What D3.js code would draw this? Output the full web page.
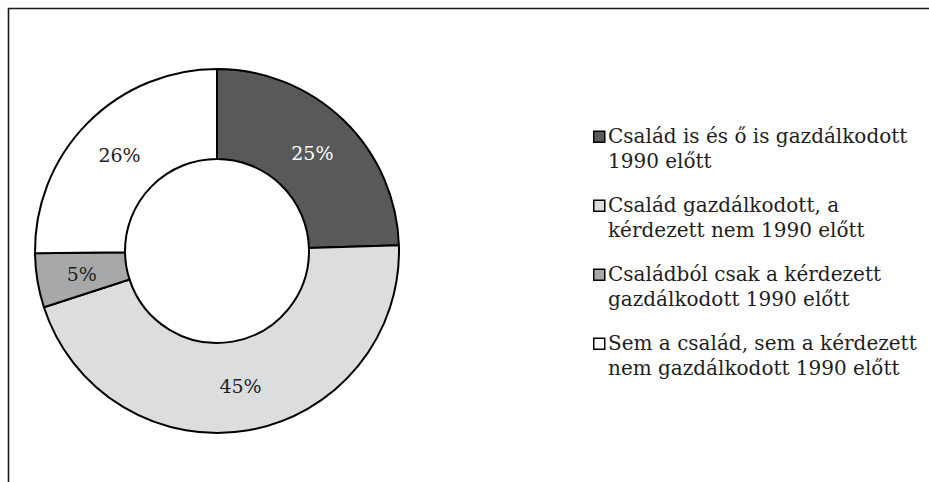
<!DOCTYPE html>
<html>
<head>
<meta charset="utf-8">
<script src="https://cdn.jsdelivr.net/npm/d3@7"></script>
<style>
  html, body { margin: 0; padding: 0; background: #fff; }
  svg { display: block; }
  text { font-family: "DejaVu Serif", Georgia, serif; }
</style>
</head>
<body>
<svg id="chart" width="929" height="482"></svg>
<script>
const categories = [
  ["Család is és ő is gazdálkodott", "1990 előtt"],
  ["Család gazdálkodott, a", "kérdezett nem 1990 előtt"],
  ["Családból csak a kérdezett", "gazdálkodott 1990 előtt"],
  ["Sem a család, sem a kérdezett", "nem gazdálkodott 1990 előtt"]
];
const values = [24.5, 45.5, 4.8, 25.2];
const valueLabels = ["25%", "45%", "5%", "26%"];
const colors = ["#58595b", "#dcdddf", "#a7a8aa", "#ffffff"];
const labelColors = ["#ffffff", "#1e1e1e", "#1e1e1e", "#1e1e1e"];

const svg = d3.select("#chart");
const W = 929, H = 482;

// frame (cropped)
svg.append("path")
  .attr("d", `M8.5,${H} L8.5,8.5 L${W},8.5`)
  .attr("fill", "none")
  .attr("stroke", "#1a1a1a")
  .attr("stroke-width", 1.6);

const cx = 217, cy = 251, rOuter = 182, rInner = 92;

const pie = d3.pie().sort(null).value(d => d);
const arcs = pie(values);
const arc = d3.arc().innerRadius(rInner).outerRadius(rOuter);
const labelArc = d3.arc().innerRadius((rInner + rOuter) / 2).outerRadius((rInner + rOuter) / 2);

const g = svg.append("g").attr("transform", `translate(${cx},${cy})`);
g.selectAll("path.slice")
  .data(arcs)
  .join("path")
  .attr("class", "slice")
  .attr("d", arc)
  .attr("fill", (d, i) => colors[i])
  .attr("stroke", "#000")
  .attr("stroke-width", 2)
  .attr("stroke-linejoin", "round");

g.selectAll("text.lbl")
  .data(arcs)
  .join("text")
  .attr("class", "lbl")
  .attr("transform", d => `translate(${labelArc.centroid(d)})`)
  .attr("text-anchor", "middle")
  .attr("dy", "0.38em")
  .attr("font-size", 19)
  .attr("fill", (d, i) => labelColors[i])
  .text((d, i) => valueLabels[i]);

// legend
const legX = 593, textX = 608, firstBase = 143, itemPitch = 69, lineH = 25;
const leg = svg.append("g");
categories.forEach((lines, i) => {
  const base = firstBase + i * itemPitch;
  leg.append("rect")
    .attr("x", legX + 0.75)
    .attr("y", base - 11.75)
    .attr("width", 11)
    .attr("height", 11)
    .attr("fill", colors[i])
    .attr("stroke", "#000")
    .attr("stroke-width", 1.5);
  lines.forEach((t, j) => {
    leg.append("text")
      .attr("x", textX)
      .attr("y", base + j * lineH)
      .attr("font-size", 20)
      .attr("fill", "#1e1e1e")
      .text(t);
  });
});
</script>
</body>
</html>
